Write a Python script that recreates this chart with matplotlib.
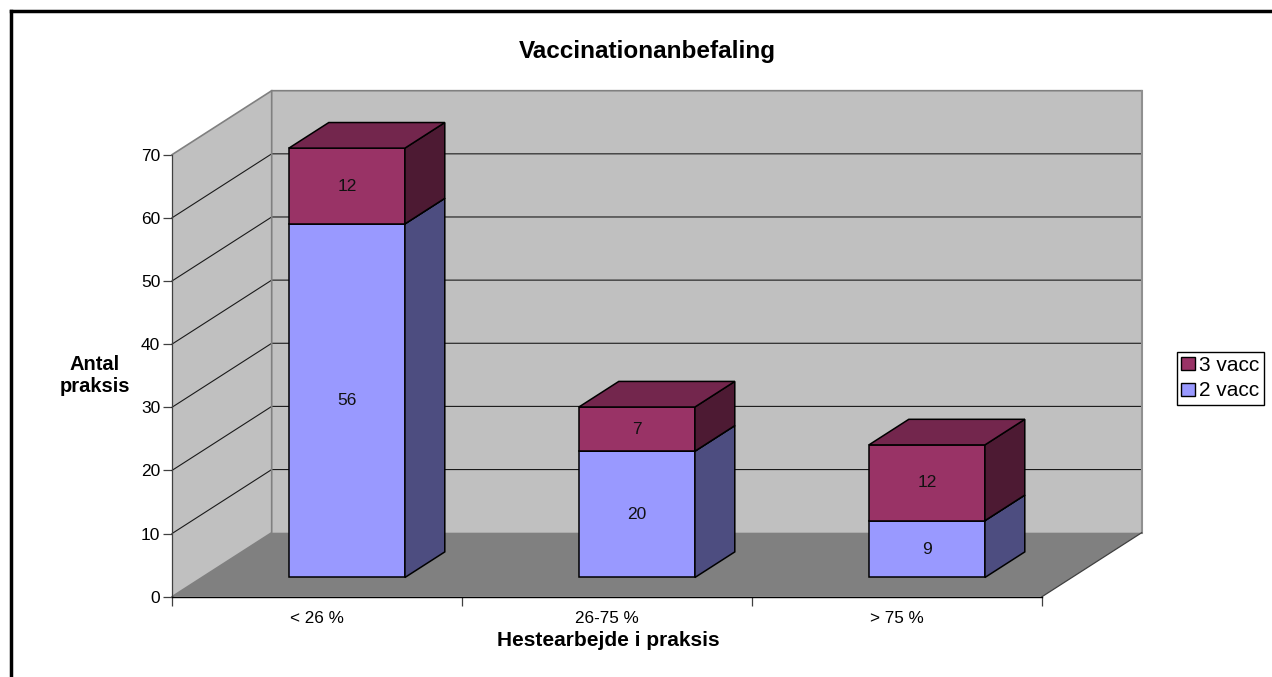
from matplotlib import pyplot as plt
from matplotlib.lines import Line2D
from matplotlib.patches import Patch, Polygon

plt.rcParams['font.family'] = ['Liberation Sans', 'DejaVu Sans']

W, H = 1272, 677

categories = ['< 26 %', '26-75 %', '> 75 %']
two_vacc = [56, 20, 9]
three_vacc = [12, 7, 12]
y_ticks = [0, 10, 20, 30, 40, 50, 60, 70]

# depth of the 3d box, in data units (1 category wide, 1 value high)
DX = 99.7 / 290
DY = 64 / 6.314
BAR_NEAR, BAR_FAR = 0.3, 0.7


def pt(x, y, d):
    return (x + d * DX, y + d * DY)


def face(ax, corners, color, edge='none', lw=0, zorder=1):
    ax.add_patch(Polygon(corners, closed=True, facecolor=color, edgecolor=edge,
                         linewidth=lw, clip_on=False, zorder=zorder, joinstyle='miter'))


def box(ax, x0, x1, y0, y1, front, side, top):
    d0, d1 = BAR_NEAR, BAR_FAR
    ax.bar(pt(x0, 0, d0)[0], y1 - y0, x1 - x0, bottom=pt(0, y0, d0)[1], align='edge',
           color=front, edgecolor='black', linewidth=1.1, clip_on=False, zorder=5)
    face(ax, [pt(x1, y0, d0), pt(x1, y0, d1), pt(x1, y1, d1), pt(x1, y1, d0)],
         side, 'black', 1.1, 5)
    face(ax, [pt(x0, y1, d0), pt(x0, y1, d1), pt(x1, y1, d1), pt(x1, y1, d0)],
         top, 'black', 1.1, 5)


fig = plt.figure(figsize=(W / 100, H / 100), dpi=100, facecolor='white')
ax = fig.add_axes([172 / W, 1 - 596.7 / H, 870 / W, 442 / H])
ax.set_xlim(0, 3)
ax.set_ylim(0, 70)
ax.patch.set_visible(False)

# walls and floor
face(ax, [pt(0, 0, 0), pt(0, 0, 1), pt(0, 70, 1), pt(0, 70, 0)], '#C0C0C0', zorder=1)
face(ax, [pt(0, 0, 1), pt(3, 0, 1), pt(3, 70, 1), pt(0, 70, 1)], '#C0C0C0', zorder=1)
face(ax, [pt(0, 0, 0), pt(3, 0, 0), pt(3, 0, 1), pt(0, 0, 1)], '#808080', zorder=1)

for v in y_ticks[1:]:
    xs, ys = zip(pt(0, v, 0), pt(0, v, 1), pt(3, v, 1))
    if v == 70:
        ax.plot(xs, ys, color='#808080', lw=1.2, clip_on=False, zorder=2)
    else:
        ax.plot(xs, ys, color='#1a1a1a', lw=0.8, clip_on=False, zorder=2)
xs, ys = zip(pt(0, 0, 0), pt(0, 0, 1), pt(0, 70, 1))
ax.plot(xs, ys, color='#808080', lw=1.2, clip_on=False, zorder=2)
xs, ys = zip(pt(3, 70, 1), pt(3, 0, 1), pt(3, 0, 0))
ax.plot(xs[:2], ys[:2], color='#909090', lw=1.5, clip_on=False, zorder=2)
ax.plot(xs[1:], ys[1:], color='#404040', lw=0.9, clip_on=False, zorder=2)

# stacked bars
bar_width = 0.4
for i, (a, b) in enumerate(zip(two_vacc, three_vacc)):
    x0 = i + 0.3
    x1 = x0 + bar_width
    box(ax, x0, x1, 0, a, '#9999FF', '#4D4D80', '#73739F')
    box(ax, x0, x1, a, a + b, '#993366', '#4D1A33', '#73264D')
    cx = (x0 + x1) / 2
    tx, ty = pt(cx, a / 2, BAR_NEAR)
    ax.text(tx, ty, str(a), ha='center', va='center', fontsize=12.5, color='#111111', zorder=6)
    tx, ty = pt(cx, a + b / 2, BAR_NEAR)
    ax.text(tx, ty, str(b), ha='center', va='center', fontsize=12.5, color='#111111', zorder=6)

# axes
for s in ['top', 'right']:
    ax.spines[s].set_visible(False)
ax.spines['left'].set_color('#404040')
ax.spines['left'].set_linewidth(0.9)
ax.spines['bottom'].set_color('black')
ax.spines['bottom'].set_linewidth(1.0)
ax.spines['left'].set_zorder(3)
ax.spines['bottom'].set_zorder(3)
ax.set_yticks(y_ticks)
ax.set_xticks([0, 1, 2, 3])
ax.set_xticklabels([])
ax.set_xticks([0.5, 1.5, 2.5], minor=True)
ax.set_xticklabels(categories, minor=True)
ax.tick_params(axis='y', length=6.5, width=0.9, color='#404040', labelsize=12.5, pad=2)
ax.tick_params(axis='x', which='major', length=6.5, width=0.9, color='#404040')
ax.tick_params(axis='x', which='minor', length=0, labelsize=12.3, pad=10.5)

# texts
fig.text(647 / W, 1 - 51.5 / H, 'Vaccinationanbefaling', ha='center', va='center',
         fontsize=17.5, fontweight='bold')
fig.text(608 / W, 1 - 641 / H, 'Hestearbejde i praksis', ha='center', va='center',
         fontsize=15, fontweight='bold')
fig.text(95 / W, 1 - 376 / H, 'Antal\npraksis', ha='center', va='center',
         fontsize=14.5, fontweight='bold', linespacing=1.2)

handles = [Patch(facecolor='#993366', edgecolor='black', linewidth=1),
           Patch(facecolor='#9999FF', edgecolor='black', linewidth=1)]
fig.legend(handles, ['3 vacc', '2 vacc'], loc='upper left',
           bbox_to_anchor=(1177 / W, 1 - 352 / H), borderaxespad=0, fancybox=False,
           framealpha=1, edgecolor='black', fontsize=15, handlelength=0.67, handleheight=0.58,
           handletextpad=0.2, labelspacing=0.3, borderpad=0.2)

# outer frame, left and top only
fig.add_artist(Line2D([11 / W, 11 / W], [0, 1 - 11.3 / H], color='black', lw=2.5,
                      solid_capstyle='projecting'))
fig.add_artist(Line2D([11 / W, 1], [1 - 11.3 / H, 1 - 11.3 / H], color='black', lw=2.5,
                      solid_capstyle='projecting'))

plt.savefig('out.png', dpi=100)
